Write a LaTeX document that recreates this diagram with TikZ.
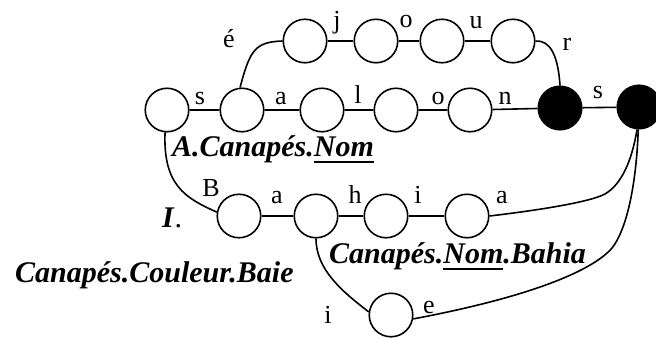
\documentclass[tikz,border=0pt]{standalone}
\usepackage{fontspec}
\setmainfont{Liberation Serif}
\newcommand{\myul}[1]{\setbox0\hbox{#1}\rlap{\rule[-7pt]{\wd0}{2.5pt}}\box0}
\tikzset{
  st/.style={circle, draw, line width=1.6pt, minimum size=43.5pt, inner sep=0pt},
  fin/.style={st, fill=black},
  lbl/.style={anchor=base, inner sep=0pt, font=\fontsize{26}{30}\selectfont},
  big/.style={anchor=base west, inner sep=0pt, font=\fontsize{30}{34}\selectfont\bfseries\itshape},
  ed/.style={line width=1.6pt}
}
\begin{document}
\begin{tikzpicture}[x=1pt,y=-1pt]
\useasboundingbox (0,0) rectangle (656,338);
% main row
\node[st] (n0) at (167,110) {};
\node[st] (n1) at (242,110) {};
\node[st] (n2) at (322,110) {};
\node[st] (n3) at (396,110) {};
\node[st] (n4) at (470,110) {};
\node[fin] (b1) at (560,108) {};
\node[fin] (b2) at (639,107) {};
% top row
\node[st] (t1) at (305,41) {};
\node[st] (t2) at (376,41) {};
\node[st] (t3) at (442,41) {};
\node[st] (t4) at (513,41) {};
% third row
\node[st] (r1) at (239,216) {};
\node[st] (r2) at (316,216) {};
\node[st] (r3) at (386,216) {};
\node[st] (r4) at (467,216) {};
% bottom
\node[st] (e1) at (391,315) {};

% edges
\draw[ed] (n0) -- (n1) -- (n2) -- (n3) -- (n4) -- (b1) -- (b2);
\draw[ed] (t1) -- (t2) -- (t3) -- (t4);
\draw[ed] (r1) -- (r2) -- (r3) -- (r4);
\draw[ed] (n1.95) .. controls (250,50) and (255,42) .. (t1.west);
\draw[ed] (t4.east) .. controls (550,40) and (558,55) .. (b1.north);
\draw[ed] (n0.265) .. controls (163,185) and (185,198) .. (r1.170);
\draw[ed] (r2.south) .. controls (316,270) and (343,292) .. (e1.172);
\draw[ed] (r4.east) .. controls (540,210) and (590,202) .. (605,194) .. controls (622,184) and (632,160) .. (b2.265);
\draw[ed] (e1.-10) .. controls (540,295) and (595,268) .. (612,248) .. controls (630,225) and (637,170) .. (b2.268);

% letter labels
\node[lbl] (le) at (229,47) {é};
\node[lbl] (lj) at (337,28) {j};
\node[lbl] (lo1) at (406,27) {o};
\node[lbl] (lu) at (476,28) {u};
\node[lbl] (lr) at (567,50) {r};
\node[lbl] (ls1) at (200,104) {s};
\node[lbl] (la1) at (281,104) {a};
\node[lbl] (ll) at (358,103) {l};
\node[lbl] (lo2) at (438,104) {o};
\node[lbl] (ln) at (505,104) {n};
\node[lbl] (ls2) at (598,98) {s};
\node[lbl] (lB) at (211,196) {B};
\node[lbl] (la2) at (277,203) {a};
\node[lbl] (lh) at (355,203) {h};
\node[lbl] (li1) at (418,203) {i};
\node[lbl] (la3) at (502,203) {a};
\node[lbl] (li2) at (328,323) {i};
\node[lbl] (le2) at (429,313) {e};

% word labels
\node[big] (w1) at (172,156) {A.Canapés.\myul{Nom}};
\node[big] (w2) at (329,263) {Canapés.\myul{Nom}.Bahia};
\node[big] (w3) at (15,282) {Canapés.Couleur.Baie};
\node[anchor=base west, inner sep=0pt, font=\fontsize{30}{34}\selectfont] (w4) at (162,227) {\textbf{\textit{I}}.};
\end{tikzpicture}
\end{document}
